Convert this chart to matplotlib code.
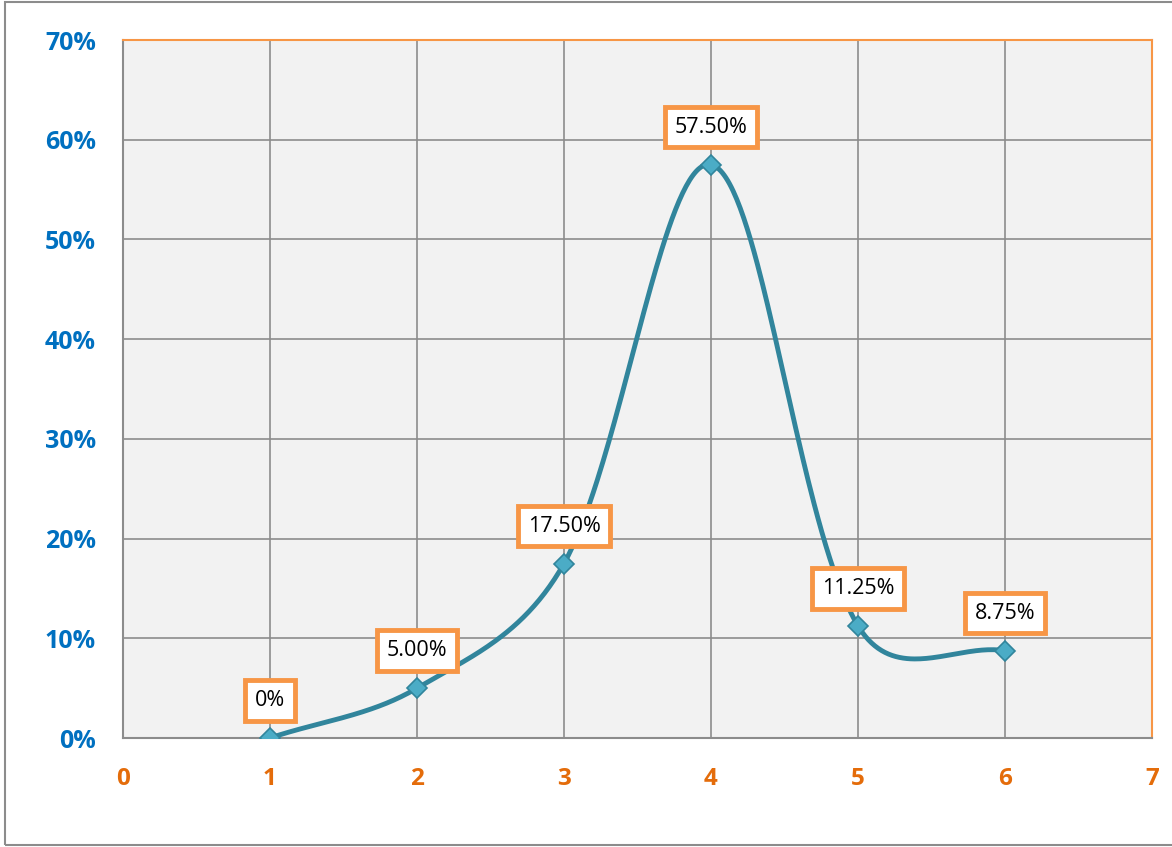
import numpy as np
import matplotlib.pyplot as plt
from matplotlib.patches import Rectangle

x_vals = [1, 2, 3, 4, 5, 6]
y_vals = [0.0, 0.05, 0.175, 0.575, 0.1125, 0.0875]
labels = ["0%", "5.00%", "17.50%", "57.50%", "11.25%", "8.75%"]
y_ticks = [0, 0.1, 0.2, 0.3, 0.4, 0.5, 0.6, 0.7]
x_ticks = [0, 1, 2, 3, 4, 5, 6, 7]


def smooth(xs, ys, sx=147.0, sy=997.0, n=80, mix=0.55):
    # spreadsheet-like smoothed line: bezier segments, tangents partly weighted by segment length
    p = np.column_stack([np.asarray(xs) * sx, np.asarray(ys) * sy]).astype(float)
    m = len(p)
    out = []
    for i in range(m - 1):
        p1, p2 = p[i], p[i + 1]
        p0 = p[i - 1] if i > 0 else p1
        p3 = p[i + 2] if i + 2 < m else p2
        d01 = np.linalg.norm(p1 - p0)
        d12 = np.linalg.norm(p2 - p1)
        d23 = np.linalg.norm(p3 - p2)
        if d01 > 0:
            f1 = mix / 6 + (1 - mix) * d12 / (d01 + d12) / 3
            c1 = p1 + (p2 - p0) * f1
        else:
            c1 = p1 + (p2 - p1) / 3
        if d23 > 0:
            f2 = mix / 6 + (1 - mix) * d12 / (d12 + d23) / 3
            c2 = p2 - (p3 - p1) * f2
        else:
            c2 = p2 - (p2 - p1) / 3
        t = np.linspace(0, 1, n)[:, None]
        seg = ((1 - t) ** 3) * p1 + 3 * ((1 - t) ** 2) * t * c1 + 3 * (1 - t) * t ** 2 * c2 + t ** 3 * p2
        out.append(seg)
    out = np.vstack(out)
    return out[:, 0] / sx, out[:, 1] / sy


plt.rcParams['font.family'] = ['Open Sans', 'DejaVu Sans']

fig = plt.figure(figsize=(11.72, 8.47), dpi=100)
fig.patches.append(Rectangle((5 / 1172, 2 / 847), 1.0, 843 / 847, transform=fig.transFigure,
                             fill=False, edgecolor='#8c8c8c', linewidth=1.5))
ax = fig.add_axes([123 / 1172, 109 / 847, 1029 / 1172, 698 / 847])
ax.set_facecolor('#f2f2f2')

cx, cy = smooth(x_vals, y_vals)
ax.plot(cx, cy, color='#31859c', linewidth=3.5, zorder=3, solid_capstyle='round')
ax.plot(x_vals, y_vals, linestyle='none', marker='D', markersize=10,
        markerfacecolor='#4bacc6', markeredgecolor='#31859c', markeredgewidth=1.2, zorder=4)

for xv, yv, lab in zip(x_vals, y_vals, labels):
    ax.annotate(lab, (xv, yv), xytext=(0, 27), textcoords='offset points',
                ha='center', va='center', fontsize=15.5, color='black', zorder=5,
                bbox=dict(boxstyle='square,pad=0.45', facecolor='white',
                          edgecolor='#f79646', linewidth=3.5))

ax.set_xlim(0, 7)
ax.set_ylim(0, 0.7)
ax.set_xticks(x_ticks)
ax.set_yticks(y_ticks)
ax.set_xticklabels([str(v) for v in x_ticks])
ax.set_yticklabels([f"{int(round(v * 100))}%" for v in y_ticks])
ax.grid(True, color='#8c8c8c', linewidth=1.2)
ax.set_axisbelow(True)
ax.tick_params(axis='both', length=0)
ax.tick_params(axis='y', pad=19.5, labelsize=18, labelcolor='#0070c0')
ax.tick_params(axis='x', pad=21, labelsize=17.5, labelcolor='#e46c0a')
for t in ax.get_xticklabels() + ax.get_yticklabels():
    t.set_fontweight('bold')

ax.spines['left'].set_color('#8c8c8c')
ax.spines['bottom'].set_color('#8c8c8c')
ax.spines['top'].set_color('#f79646')
ax.spines['right'].set_color('#f79646')
for s in ax.spines.values():
    s.set_linewidth(1.5)

fig.savefig('out.png', dpi=100)
